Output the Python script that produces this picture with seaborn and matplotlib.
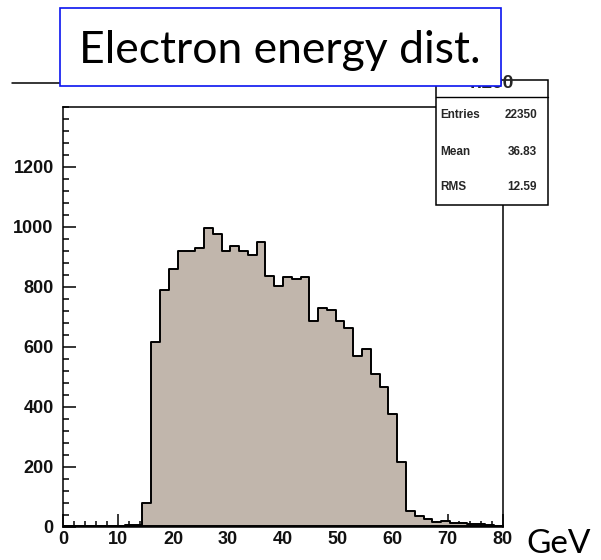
import numpy as np
import pandas as pd
import matplotlib
matplotlib.use("Agg")
import matplotlib.pyplot as plt
import seaborn as sns
from matplotlib.patches import Rectangle
from matplotlib.lines import Line2D
from matplotlib.ticker import MultipleLocator

# ---------------- data ----------------
counts = [0, 0, 0, 0, 0, 0, 3, 4, 5, 80,
          615, 790, 860, 920, 921, 929, 995, 975, 921, 935,
          921, 907, 951, 837, 801, 834, 826, 831, 686, 729,
          723, 686, 662, 570, 593, 510, 467, 374, 216, 52,
          36, 24, 16, 18, 12, 11, 10, 9, 4, 3]
x_range = [0, 80]
n_bins = 50
y_max = 1400
x_ticks = [0, 10, 20, 30, 40, 50, 60, 70, 80]
x_tick_labels = ["0", "10", "20", "30", "40", "50", "60", "70", "80"]
y_ticks = [0, 200, 400, 600, 800, 1000, 1200]
y_tick_labels = ["0", "200", "400", "600", "800", "1000", "1200"]
title = "Electron energy dist."
unit = "GeV"
hist_name = "h100"
stat_names = ["Entries", "Mean", "RMS"]
stat_values = ["22350", "36.83", "12.59"]

# ---------------- style ----------------
sns.set_style("white")
plt.rcParams["font.family"] = ["Liberation Sans", "DejaVu Sans"]

W, H = 601, 560
fig = plt.figure(figsize=(W / 100, H / 100), dpi=100)


def fx(px):
    return px / W


def fy(py):
    return 1 - py / H


ax_l, ax_r, ax_t, ax_b = 63.4, 502.6, 107.0, 526.5
ax = fig.add_axes([fx(ax_l), fy(ax_b), fx(ax_r) - fx(ax_l), fy(ax_t) - fy(ax_b)])

bin_w = (x_range[1] - x_range[0]) / n_bins
edges = np.linspace(x_range[0], x_range[1], n_bins + 1)
centers = (edges[:-1] + edges[1:]) / 2
df = pd.DataFrame({"energy": centers, "count": counts})
sns.histplot(data=df, x="energy", weights="count", binwidth=bin_w,
             binrange=tuple(x_range), element="step",
             fill=True, color="#c1b6ac", edgecolor="black", linewidth=1.4,
             alpha=1, ax=ax)

ax.set_xlim(*x_range)
ax.set_ylim(0, y_max)
ax.set_xlabel("")
ax.set_ylabel("")
ax.set_xticks(x_ticks)
ax.set_xticklabels(x_tick_labels)
ax.set_yticks(y_ticks)
ax.set_yticklabels(y_tick_labels)
ax.xaxis.set_minor_locator(MultipleLocator(2))
ax.yaxis.set_minor_locator(MultipleLocator(40))
ax.tick_params(which="both", direction="in", color="black", width=1.1,
               bottom=True, left=True, top=False, right=False)
ax.tick_params(which="major", length=9.2)
ax.tick_params(which="minor", length=4.4)
ax.tick_params(axis="x", which="major", pad=3.0)
ax.tick_params(axis="y", which="major", pad=7.0)
for lab in ax.get_xticklabels() + ax.get_yticklabels():
    lab.set_fontweight("bold")
    lab.set_fontsize(13)
    lab.set_color("#111111")
for sp in ax.spines.values():
    sp.set_linewidth(1.1)
    sp.set_color("black")

# ---------------- stats box ----------------
sb_l, sb_r, sb_t, sb_b = 436, 548, 80, 205
fig.add_artist(Rectangle((fx(sb_l), fy(sb_b)), fx(sb_r) - fx(sb_l), fy(sb_t) - fy(sb_b),
                         transform=fig.transFigure, facecolor="white",
                         edgecolor="black", linewidth=1.1, zorder=5))
fig.add_artist(Line2D([fx(sb_l), fx(sb_r)], [fy(96.7), fy(96.7)],
                      transform=fig.transFigure, color="black", lw=1.0, zorder=6))
fig.text(fx(492), fy(88), hist_name, ha="center", va="baseline",
         fontsize=14, fontweight="bold", zorder=6)
row_y = [115, 151.7, 186.7]
for name, val, ry in zip(stat_names, stat_values, row_y):
    fig.text(fx(440), fy(ry), name, ha="left", va="center", fontsize=8.5,
             fontweight="bold", zorder=6)
    fig.text(fx(537), fy(ry), val, ha="right", va="center", fontsize=8.5,
             fontweight="bold", zorder=6)

# ROOT title pave remnant line
fig.add_artist(Line2D([fx(12), fx(60)], [fy(83), fy(83)],
                      transform=fig.transFigure, color="black", lw=1.1, zorder=6))

# ---------------- overlaid title box ----------------
tb_l, tb_r, tb_t, tb_b = 60, 501, 8.5, 86
fig.add_artist(Rectangle((fx(tb_l), fy(tb_b)), fx(tb_r) - fx(tb_l), fy(tb_t) - fy(tb_b),
                         transform=fig.transFigure, facecolor="white",
                         edgecolor="#0a14f0", linewidth=1.2, zorder=10))
fig.text(fx(280), fy(63), title, ha="center", va="baseline", fontsize=32,
         family=["Lato", "DejaVu Sans"], color="black", zorder=11)

fig.text(fx(526), fy(559), unit, ha="left", va="bottom", fontsize=24,
         family=["Lato", "DejaVu Sans"], color="black", zorder=11)

fig.savefig("out.png", dpi=100)
